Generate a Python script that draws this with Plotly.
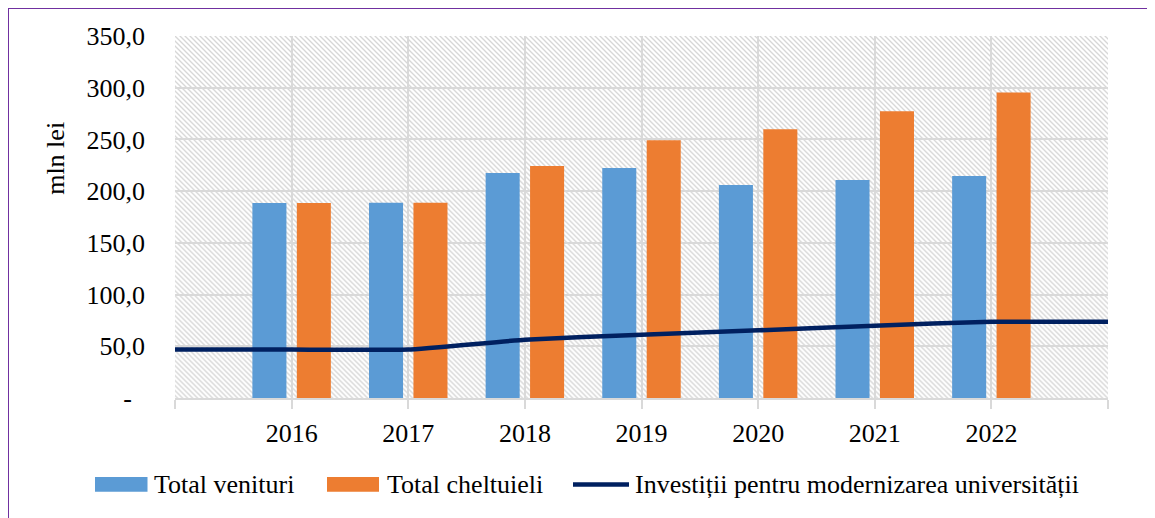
import base64
import plotly.graph_objects as go

years = ["2016", "2017", "2018", "2019", "2020", "2021", "2022"]
venituri = [188.5, 188.8, 217.5, 222.3, 205.9, 210.7, 214.6]
cheltuieli = [188.5, 188.8, 224.2, 249.3, 259.9, 277.2, 295.3]
# line series points at category boundaries 0..8 (edges included)
inv_x = [0, 1, 2, 3, 4, 5, 6, 7, 8]
investitii = [46.8, 46.8, 46.8, 56.4, 61.2, 65.4, 69.9, 73.8, 73.8]
y_tickvals = [0, 50, 100, 150, 200, 250, 300, 350]
y_ticktext = ["-\u00a0\u00a0", "50,0", "100,0", "150,0", "200,0", "250,0", "300,0", "350,0"]
names = ["Total venituri", "Total cheltuieli", "Investiții pentru modernizarea universității"]
colors = ["#5b9bd5", "#ed7d31", "#002060"]

W, H = 1155, 518
L, T = 167, 28
PW, PH = 933, 362.5
R, B = W - L - PW, H - T - PH

FONT = "Liberation Serif, Times New Roman, serif"
FS = 26

def px(x):
    return (x - L) / PW

def py(y):
    return 1 - (y - T) / PH

xpos = list(range(1, len(years) + 1))

fig = go.Figure()
fig.add_trace(go.Bar(x=xpos, y=venituri, name=names[0],
                     marker=dict(color=colors[0], line=dict(width=0))))
fig.add_trace(go.Bar(x=xpos, y=cheltuieli, name=names[1],
                     marker=dict(color=colors[1], line=dict(width=0))))
fig.add_trace(go.Scatter(x=inv_x, y=investitii, mode="lines", name=names[2],
                         line=dict(color=colors[2], width=4.5, shape="spline", smoothing=0.3)))

# hatched plot-area background as an inline SVG image
svg = f'''<svg xmlns="http://www.w3.org/2000/svg" width="{PW}" height="{PH}" viewBox="0 0 {PW} {PH}">
<defs><pattern id="p" width="5" height="5" patternUnits="userSpaceOnUse">
<rect width="5" height="5" fill="white"/>
<path d="M-1,-1 L6,6 M-1,4 L1,6 M4,-1 L6,1" stroke="#d6d6d6" stroke-width="1.3"/>
</pattern></defs>
<rect width="{PW}" height="{PH}" fill="url(#p)"/></svg>'''
src = "data:image/svg+xml;base64," + base64.b64encode(svg.encode()).decode()

shapes = [dict(type="rect", xref="paper", yref="paper",
               x0=px(0), x1=px(W + 20), y0=py(H + 20), y1=py(0),
               line=dict(color="#7030a0", width=2), fillcolor="rgba(0,0,0,0)", layer="above")]
annotations = []

# custom legend (patch/line + label), in pixel-based paper coordinates
leg_y = 477
leg_items = [("rect", 87, 139.5, 143.5), ("rect", 319, 371, 377), ("line", 565, 621, 625)]
for (kind, x0, x1, tx), name, col in zip(leg_items, names, colors):
    if kind == "rect":
        shapes.append(dict(type="rect", xref="paper", yref="paper",
                           x0=px(x0), x1=px(x1), y0=py(leg_y + 7.5), y1=py(leg_y - 7.5),
                           line=dict(width=0), fillcolor=col))
    else:
        shapes.append(dict(type="line", xref="paper", yref="paper",
                           x0=px(x0), x1=px(x1), y0=py(leg_y), y1=py(leg_y),
                           line=dict(color=col, width=4.5)))
    annotations.append(dict(text=name, xref="paper", yref="paper", x=px(tx), y=py(leg_y),
                            xanchor="left", yanchor="middle", showarrow=False,
                            font=dict(family=FONT, size=FS, color="black")))

annotations.append(dict(text="mln lei", textangle=-90, xref="paper", yref="paper",
                        x=px(48), y=py(150), showarrow=False,
                        font=dict(family=FONT, size=FS, color="black"),
                        xanchor="center", yanchor="middle"))

fig.update_layout(
    width=W, height=H,
    margin=dict(l=L, r=R, t=T, b=B, autoexpand=False),
    paper_bgcolor="white", plot_bgcolor="rgba(0,0,0,0)",
    font=dict(family=FONT, size=FS, color="black"),
    barmode="group", bargap=0.238, bargroupgap=0.234,
    showlegend=False,
    images=[dict(source=src, xref="paper", yref="paper", x=0, y=1, sizex=1, sizey=1,
                 sizing="stretch", layer="below", xanchor="left", yanchor="top")],
    shapes=shapes, annotations=annotations,
)
fig.update_xaxes(range=[0, 8], tickvals=list(range(0, 9)),
                 ticktext=[""] + years + [""],
                 showgrid=True, gridcolor="#d9d9d9", gridwidth=1.5,
                 showline=True, linecolor="#d9d9d9", linewidth=2,
                 ticks="outside", ticklen=9, tickcolor="#d9d9d9", tickwidth=1.5,
                 ticklabelstandoff=2, zeroline=False, mirror=False)
fig.update_yaxes(range=[0, 350], tickvals=y_tickvals, ticktext=y_ticktext,
                 showgrid=True, gridcolor="#d9d9d9", gridwidth=1.5,
                 zeroline=False, showline=False, ticks="", ticklabelstandoff=29)

fig.write_html("out.html")
